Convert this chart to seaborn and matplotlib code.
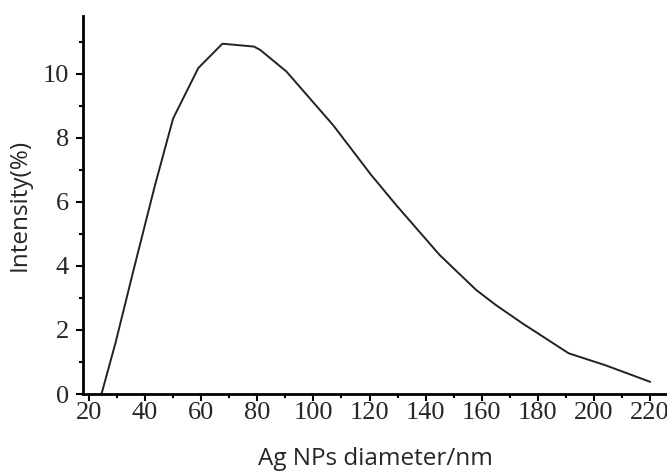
import numpy as np
import pandas as pd
import matplotlib
matplotlib.use("Agg")
import matplotlib.pyplot as plt
import seaborn as sns
from matplotlib.ticker import MultipleLocator

# Size distribution
diameter = [24.5, 29.5, 36, 43.5, 50, 59, 67.6, 72.5, 78.8, 81, 90.4,
            107, 120.6, 129.5, 145, 158, 165, 174.6, 191, 204, 220]
intensity = [0, 1.6, 3.9, 6.5, 8.6, 10.18, 10.94, 10.9, 10.85, 10.75, 10.07,
             8.4, 6.84, 5.9, 4.34, 3.25, 2.78, 2.2, 1.27, 0.9, 0.38]

x_ticks = [20, 40, 60, 80, 100, 120, 140, 160, 180, 200, 220]
y_ticks = [0, 2, 4, 6, 8, 10]

df = pd.DataFrame({'diameter': diameter, 'intensity': intensity})

sns.set_style("ticks")

fig = plt.figure(figsize=(6.67, 4.75), dpi=100)
ax = fig.add_axes([0.1244, 0.1705, 0.8756, 0.7955])

sns.lineplot(data=df, x='diameter', y='intensity', ax=ax, color='#222222',
             linewidth=1.4, sort=False)

ax.set_xlim(17.9, 226)
ax.set_ylim(0, 11.8)
ax.set_xticks(x_ticks)
ax.set_yticks(y_ticks)
ax.xaxis.set_minor_locator(MultipleLocator(10))
ax.yaxis.set_minor_locator(MultipleLocator(1))

for lab in ax.get_xticklabels() + ax.get_yticklabels():
    lab.set_fontfamily('Liberation Serif')
    lab.set_fontsize(19)

ax.tick_params(which='major', length=5, width=1.5, color='black')
ax.tick_params(axis='x', which='major', pad=1)
ax.tick_params(axis='y', which='major', pad=5)
ax.tick_params(which='minor', length=3, width=1.5, color='black')

ax.set_xlabel('Ag NPs diameter/nm', fontfamily='Open Sans', fontsize=17.5, labelpad=16)
ax.set_ylabel('Intensity(%)', fontfamily='Open Sans', fontsize=17.5, labelpad=8)

sns.despine(ax=ax)
for s in ['left', 'bottom']:
    ax.spines[s].set_linewidth(2)
    ax.spines[s].set_color('black')

fig.savefig('out.png', dpi=100)
